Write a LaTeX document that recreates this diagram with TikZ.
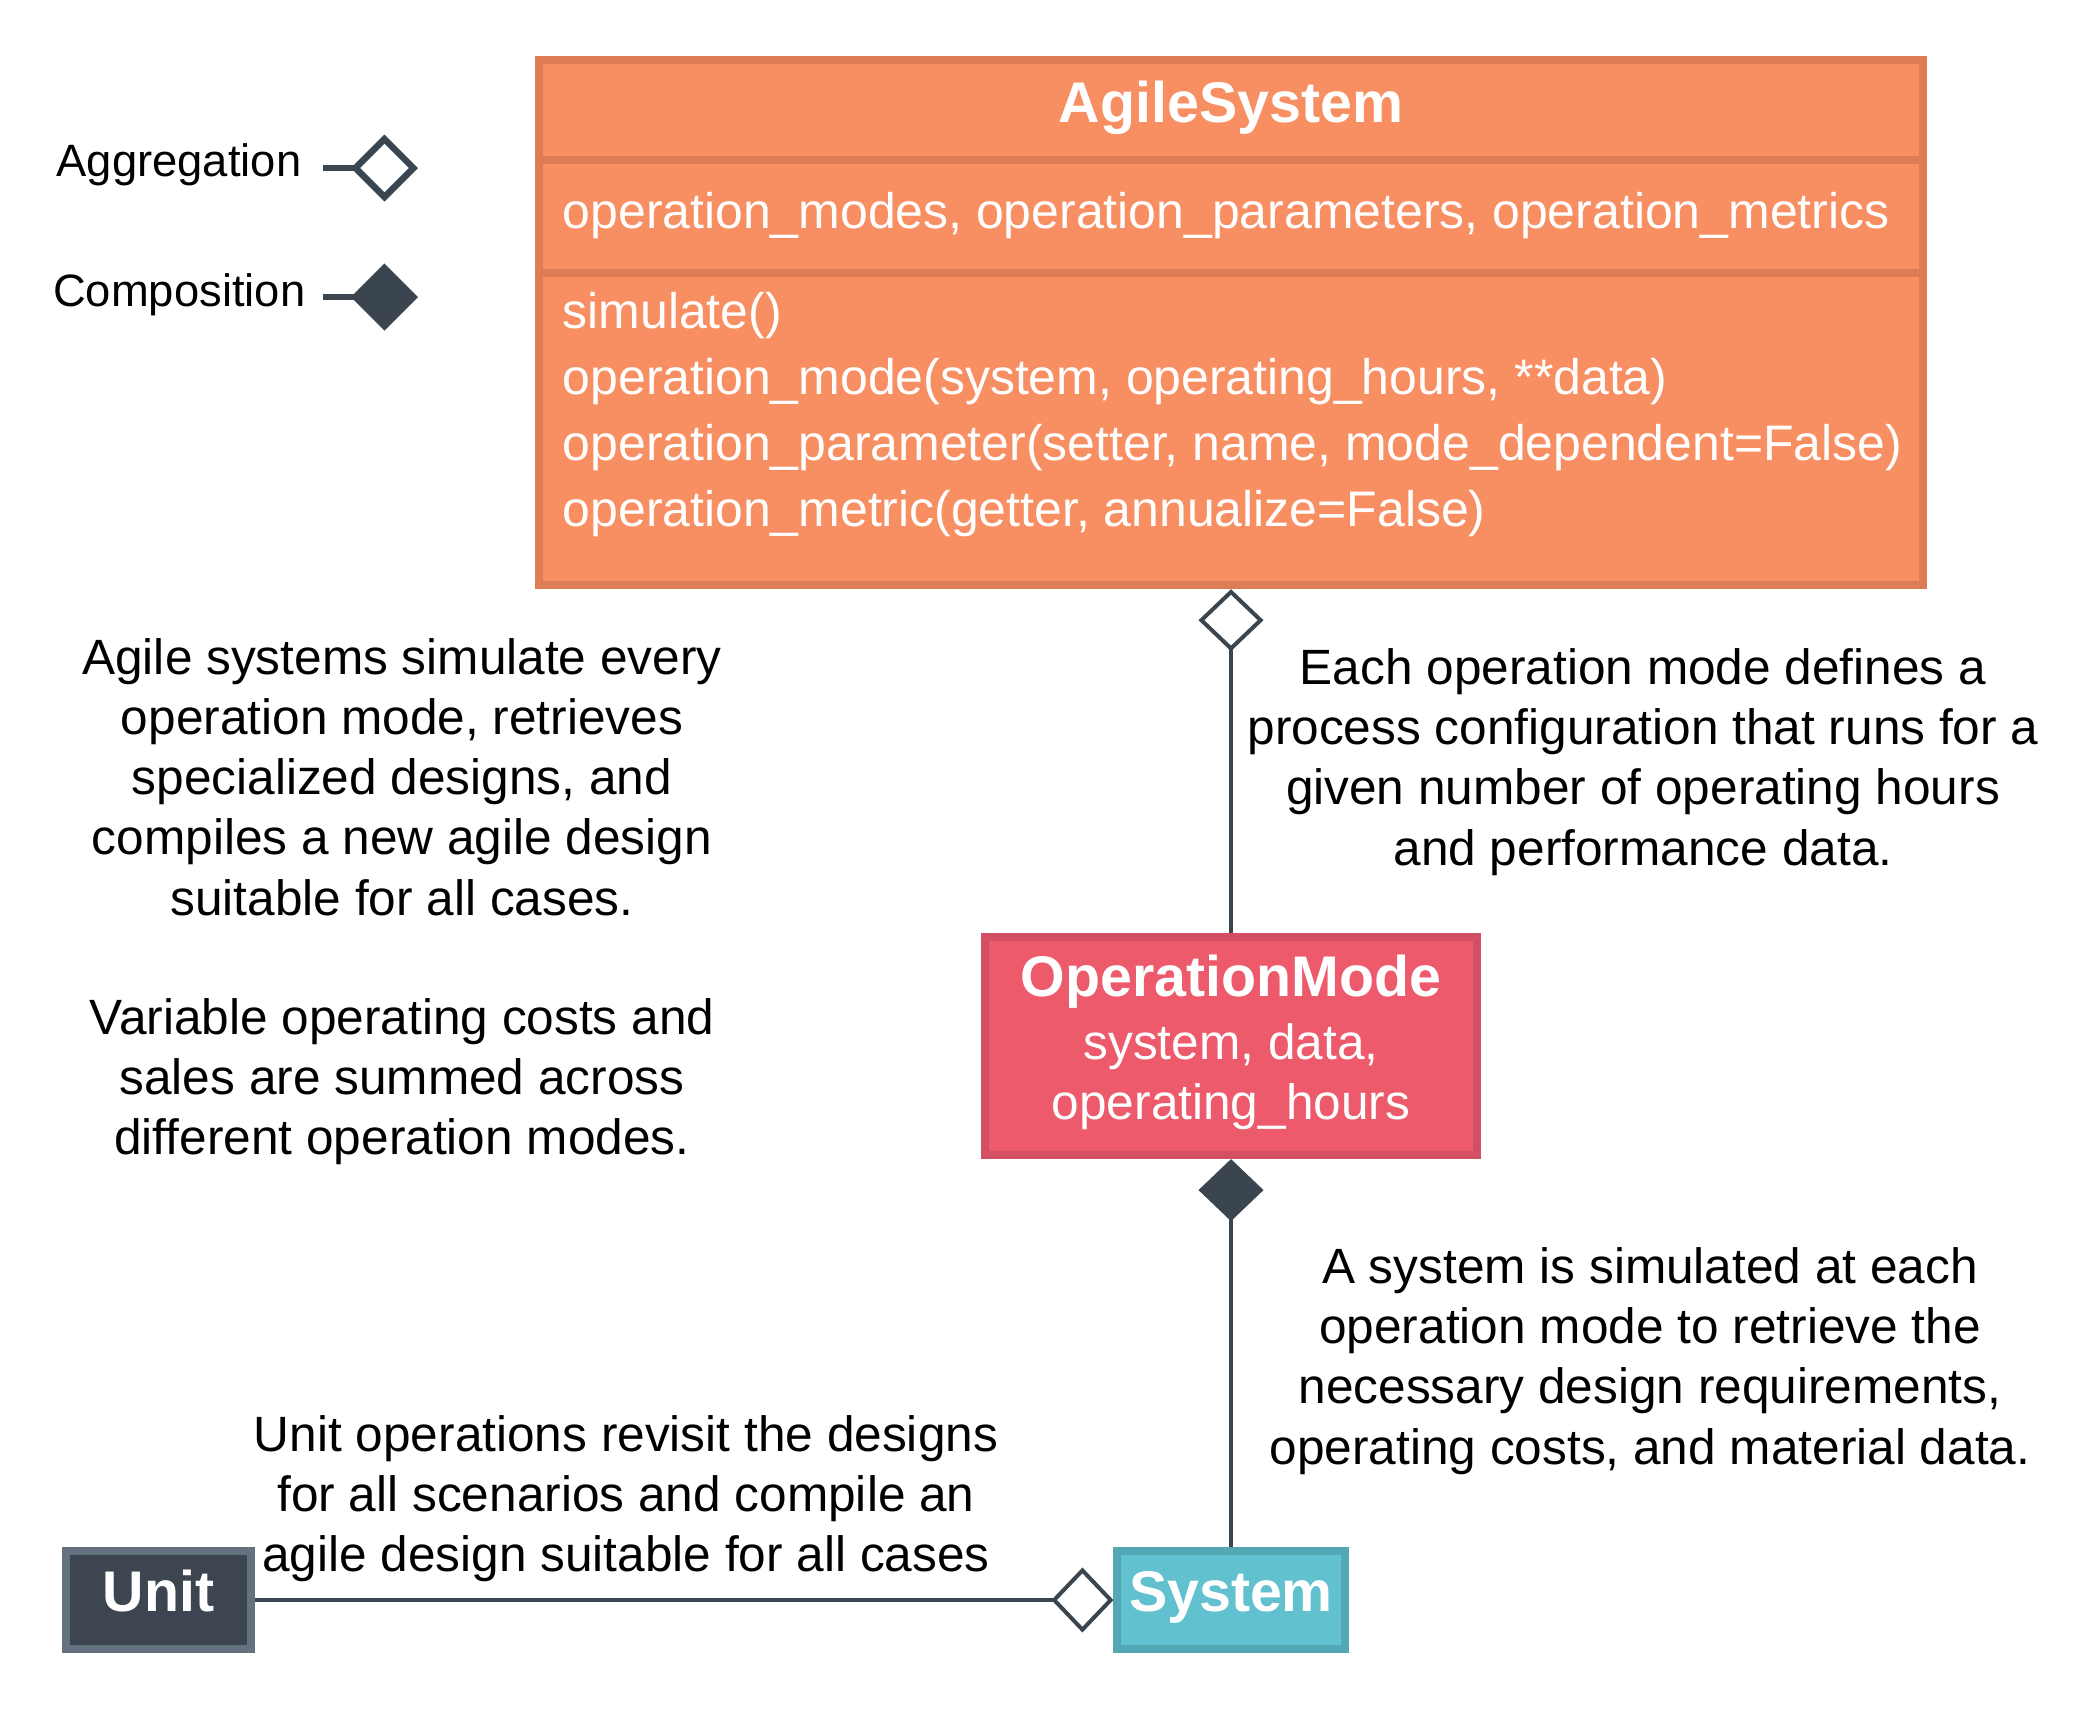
\documentclass[tikz,border=0pt]{standalone}
\usepackage{fontspec}
\setmainfont{Liberation Sans}
\usepackage{tikz}
\usetikzlibrary{arrows.meta}
\definecolor{agileorange}{HTML}{F78F63}
\definecolor{agileedge}{HTML}{DE7C55}
\definecolor{modered}{HTML}{EC5A6B}
\definecolor{modeedge}{HTML}{D44F63}
\definecolor{systeal}{HTML}{62C1CE}
\definecolor{sysedge}{HTML}{53A8B4}
\definecolor{unitdark}{HTML}{3C4550}
\definecolor{unitedge}{HTML}{64717F}
\definecolor{linkgray}{HTML}{3B4550}
\tikzset{
  classbox/.style={draw, line width=0.08cm, inner sep=0pt, text=white,
    font=\fontsize{16.3}{17.1}\selectfont\bfseries},
  boxline/.style={inner sep=0pt, text=white, font=\fontsize{14.2}{17.1}\selectfont},
  notetext/.style={align=center, font=\fontsize{14.1}{17.1}\selectfont},
  legendtext/.style={inner sep=0pt, font=\fontsize{12.9}{15}\selectfont},
  link/.style={draw=linkgray, line width=0.04cm},
  legendline/.style={draw=linkgray, line width=0.065cm},
  aggr/.style={-{Diamond[open,length=0.62cm,width=0.65cm]}},
  comp/.style={-{Diamond[length=0.62cm,width=0.65cm]}},
  aggrkey/.style={-{Diamond[open,length=0.67cm,width=0.67cm]}},
  compkey/.style={-{Diamond[length=0.67cm,width=0.67cm]}}
}

\begin{document}
\begin{tikzpicture}[x=0.01cm,y=-0.01cm]
\useasboundingbox (0,0) rectangle (2096,1729);
% legend
\node[legendtext,anchor=base east] (aggr-label) at (302,176) {Aggregation}; % aggregation key
\coordinate (aggr-a) at (323,168);
\coordinate (aggr-b) at (418,168);
\draw[legendline,aggrkey] (aggr-a) -- (aggr-b);
\node[legendtext,anchor=base east] (comp-label) at (306,306) {Composition}; % composition key
\coordinate (comp-a) at (323,297);
\coordinate (comp-b) at (418,297);
\draw[legendline,compkey] (comp-a) -- (comp-b);
% AgileSystem class
\node[classbox,fill=agileorange,draw=agileedge,minimum width=13.84cm,minimum height=5.25cm] (agile) at (1231,322.5) {};
\coordinate (split1) at (0,160);
\coordinate (split2) at (0,273);
\draw[agileedge,line width=0.08cm] (agile.west |- split1) -- (agile.east |- split1); % header split
\draw[agileedge,line width=0.08cm] (agile.west |- split2) -- (agile.east |- split2); % attribute split
\node[classbox,draw=none,anchor=base] (agile-title) at (1231,122) {AgileSystem};
\node[boxline,anchor=base west] (agile-attr) at (562,228) {operation\_modes, operation\_parameters, operation\_metrics};
\node[boxline,anchor=base west] (agile-m1) at (562,328) {simulate()};
\node[boxline,anchor=base west] (agile-m2) at (562,394) {operation\_mode(system, operating\_hours, **data)};
\node[boxline,anchor=base west] (agile-m3) at (562,460) {operation\_parameter(setter, name, mode\_dependent=False)};
\node[boxline,anchor=base west] (agile-m4) at (562,526) {operation\_metric(getter, annualize=False)};
% OperationMode class
\node[classbox,fill=modered,draw=modeedge,minimum width=4.92cm,minimum height=2.18cm,align=center,
  font=\fontsize{14.1}{17.1}\selectfont] (mode) at (1231,1046)
  {{\bfseries\fontsize{16.3}{17.1}\selectfont OperationMode}\\[1pt]system, data,\\operating\_hours\rule[-5pt]{0pt}{1pt}};
% System and Unit
\node[classbox,fill=systeal,draw=sysedge,minimum width=2.27cm,minimum height=0.98cm,
  text height=10.4pt,text depth=3.6pt] (system) at (1231,1600) {System};
\node[classbox,fill=unitdark,draw=unitedge,minimum width=1.85cm,minimum height=0.98cm,
  text height=10.4pt,text depth=3.6pt] (unit) at (158.5,1600) {Unit};
% notes
\node[notetext] (note-agile) at (402,777) {Agile systems simulate every\\operation mode, retrieves\\specialized designs, and\\compiles a new agile design\\suitable for all cases.};
\node[notetext] (note-costs) at (402,1082) {Variable operating costs and\\sales are summed across\\different operation modes.};
\node[notetext] (note-mode) at (1643,762) {Each operation mode defines a\\process configuration that runs for a\\given number of operating hours\\and performance data.};
\node[notetext] (note-system) at (1650,1361) {A system is simulated at each\\operation mode to retrieve the\\necessary design requirements,\\operating costs, and material data.};
\node[notetext] (note-unit) at (626,1499) {Unit operations revisit the designs\\for all scenarios and compile an\\agile design suitable for all cases};
% links
\draw[link,aggr] (mode) -- (agile);
\draw[link,comp] (system) -- (mode);
\draw[link,aggr] (unit) -- (system);
\end{tikzpicture}
\end{document}
